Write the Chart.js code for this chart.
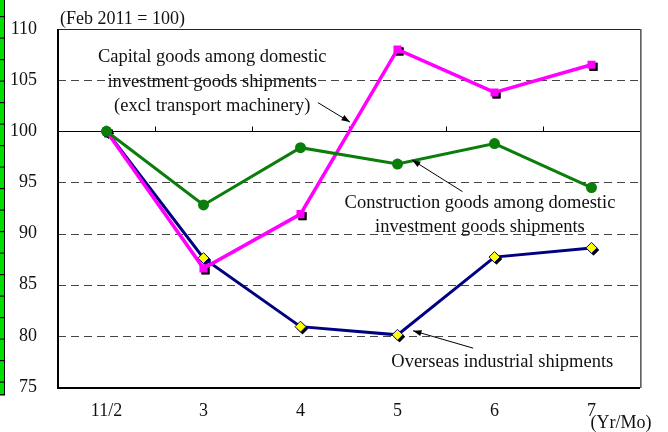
<!DOCTYPE html>
<html>
<head>
<meta charset="utf-8">
<script src="https://cdn.jsdelivr.net/npm/chart.js@4"></script>
<style>
  html, body { margin: 0; padding: 0; background: #fff; }
  #wrap { width: 668px; height: 432px; position: relative; }
</style>
</head>
<body>
<div id="wrap"><canvas id="chart" width="668" height="432"></canvas></div>
<script>
// Shipments index (Feb 2011 = 100)

const LABELS = ['11/2', '3', '4', '5', '6', '7'];
const CAPITAL = [100, 86.6, 91.9, 108.0, 103.8, 106.5];
const CONSTRUCTION = [100, 92.8, 98.4, 96.8, 98.8, 94.5];
const OVERSEAS = [100, 87.6, 80.9, 80.1, 87.7, 88.6];
const Y_TICKS = [75, 80, 85, 90, 95, 100, 105, 110];
const DASHED = [80, 85, 90, 95, 105];

// annotations in data coords: [categoryIndex, value]
const NOTES = [
  { lines: ['Capital goods among domestic', 'investment goods shipments', '(excl transport machinery)'],
    at: [1.09, 107.2], step: 2.35, arrow: [[2.18, 102.8], [2.51, 100.9]] },
  { lines: ['Construction goods among domestic', 'investment goods shipments'],
    at: [3.85, 93.0], step: 2.35, arrow: [[3.67, 94.1], [3.15, 97.2]] },
  { lines: ['Overseas industrial shipments'],
    at: [4.08, 77.45], step: 2.35, arrow: [[3.78, 78.8], [3.16, 80.5]] },
];

const SERIF = '"Liberation Serif", "DejaVu Serif", serif';

const decor = {
  id: 'decor',
  beforeDraw(chart) {
    const ctx = chart.ctx;
    // green strip on the left edge
    ctx.save();
    ctx.fillStyle = '#00e000';
    ctx.fillRect(0, 0, 4, 395);
    ctx.fillStyle = '#000';
    ctx.fillRect(4, 0, 1, 395);
    ctx.fillRect(0, 394, 5, 1.5);
    for (let y = 16; y < 395; y += 21.5) ctx.fillRect(0, y, 5, 1.2);
    ctx.restore();
  },
  beforeDatasetsDraw(chart) {
    const { ctx, chartArea: a, scales: { x, y } } = chart;
    ctx.save();
    // dashed grid lines
    ctx.strokeStyle = '#444';
    ctx.lineWidth = 1;
    ctx.setLineDash([8, 5]);
    for (const v of DASHED) {
      const py = Math.round(y.getPixelForValue(v)) + 0.5;
      ctx.beginPath(); ctx.moveTo(a.left, py); ctx.lineTo(a.right, py); ctx.stroke();
    }
    ctx.setLineDash([]);
    // 100 line with upward ticks at category boundaries
    const p100 = Math.round(y.getPixelForValue(100)) + 0.5;
    ctx.strokeStyle = '#000';
    ctx.beginPath(); ctx.moveTo(a.left, p100); ctx.lineTo(a.right, p100); ctx.stroke();
    for (let i = 0; i < LABELS.length; i++) {
      const px = Math.round(x.getPixelForValue(i + 0.5)) + 0.5;
      ctx.beginPath(); ctx.moveTo(px, p100); ctx.lineTo(px, p100 - 5); ctx.stroke();
    }
    // plot border
    ctx.strokeStyle = '#222';
    ctx.lineWidth = 1;
    ctx.strokeRect(a.left + 0.5, a.top + 0.5, a.right - a.left, a.bottom - a.top);
    ctx.strokeStyle = '#777';
    ctx.lineWidth = 1.5;
    ctx.beginPath(); ctx.moveTo(a.right + 1, a.top); ctx.lineTo(a.right + 1, a.bottom + 1); ctx.stroke();
    ctx.strokeStyle = '#000';
    ctx.lineWidth = 2;
    ctx.beginPath(); ctx.moveTo(a.left, a.top); ctx.lineTo(a.left, a.bottom + 1); ctx.lineTo(a.right, a.bottom + 1); ctx.stroke();
    ctx.restore();
  },
  beforeDatasetDraw(chart, args) {
    // black drop shadow under square / diamond markers
    const ds = chart.data.datasets[args.index];
    if (!ds.shadow) return;
    const ctx = chart.ctx;
    ctx.save();
    ctx.fillStyle = '#000';
    for (const pt of args.meta.data) {
      Chart.helpers.drawPoint(ctx, {
        pointStyle: ds.pointStyle, radius: ds.pointRadius, rotation: 0, borderWidth: 0
      }, pt.x + 2, pt.y + 2);
      ctx.fill();
    }
    ctx.restore();
  },
  afterDraw(chart) {
    const { ctx, chartArea: a, scales: { x, y } } = chart;
    ctx.save();
    ctx.fillStyle = '#111';
    ctx.font = '18.5px ' + SERIF;
    ctx.textBaseline = 'middle';
    ctx.textAlign = 'center';
    for (const n of NOTES) {
      const cx = x.getPixelForValue(n.at[0]);
      n.lines.forEach((t, k) => {
        ctx.fillText(t, cx, y.getPixelForValue(n.at[1] - k * n.step));
      });
      // arrow
      const [p0, p1] = n.arrow;
      const x0 = x.getPixelForValue(p0[0]), y0 = y.getPixelForValue(p0[1]);
      const x1 = x.getPixelForValue(p1[0]), y1 = y.getPixelForValue(p1[1]);
      ctx.strokeStyle = '#000';
      ctx.lineWidth = 1;
      ctx.beginPath(); ctx.moveTo(x0, y0); ctx.lineTo(x1, y1); ctx.stroke();
      const ang = Math.atan2(y1 - y0, x1 - x0);
      ctx.beginPath();
      ctx.moveTo(x1, y1);
      ctx.lineTo(x1 - 9 * Math.cos(ang - 0.35), y1 - 9 * Math.sin(ang - 0.35));
      ctx.lineTo(x1 - 9 * Math.cos(ang + 0.35), y1 - 9 * Math.sin(ang + 0.35));
      ctx.closePath();
      ctx.fillStyle = '#000';
      ctx.fill();
      ctx.fillStyle = '#111';
    }
    ctx.font = '18px ' + SERIF;
    ctx.textAlign = 'left';
    ctx.fillText('(Feb 2011 = 100)', a.left + 2, a.top - 10);
    ctx.fillText('(Yr/Mo)', x.getPixelForValue(5) - 1, 423);
    ctx.restore();
  }
};

new Chart(document.getElementById('chart'), {
  type: 'line',
  data: {
    labels: LABELS,
    datasets: [
      {
        label: 'Overseas industrial shipments',
        data: OVERSEAS,
        borderColor: '#000080',
        borderWidth: 3,
        pointStyle: 'rectRot',
        pointRadius: 5.5,
        pointBackgroundColor: '#ffff00',
        pointBorderColor: '#000080',
        pointBorderWidth: 1,
        shadow: true,
        order: 3,
      },
      {
        label: 'Capital goods',
        data: CAPITAL,
        borderColor: '#ff00ff',
        borderWidth: 3.5,
        pointStyle: 'rect',
        pointRadius: 5.7,
        pointBackgroundColor: '#ff00ff',
        pointBorderColor: '#ff00ff',
        pointBorderWidth: 0,
        shadow: true,
        order: 2,
      },
      {
        label: 'Construction goods',
        data: CONSTRUCTION,
        borderColor: '#0a7d0a',
        borderWidth: 3,
        pointStyle: 'circle',
        pointRadius: 5.5,
        pointBackgroundColor: '#0a7d0a',
        pointBorderColor: '#0a7d0a',
        pointBorderWidth: 0,
        order: 1,
      },
    ],
  },
  options: {
    responsive: false,
    animation: false,
    events: [],
    layout: { padding: { top: 29, right: 28, left: 0, bottom: 0 } },
    plugins: { legend: { display: false }, tooltip: { enabled: false } },
    scales: {
      x: {
        type: 'category',
        offset: true,
        grid: { display: false, offset: true },
        border: { display: false },
        ticks: { color: '#111', font: { family: SERIF, size: 18 }, padding: 5 },
        afterFit(s) { s.height = 45; },
      },
      y: {
        min: 75,
        max: 110,
        afterBuildTicks(s) { s.ticks = Y_TICKS.map(v => ({ value: v })); },
        grid: { display: false },
        border: { display: false },
        ticks: { color: '#111', font: { family: SERIF, size: 18 }, padding: 13 },
        afterFit(s) { s.width = 58; },
      },
    },
  },
  plugins: [decor],
});
</script>
</body>
</html>
